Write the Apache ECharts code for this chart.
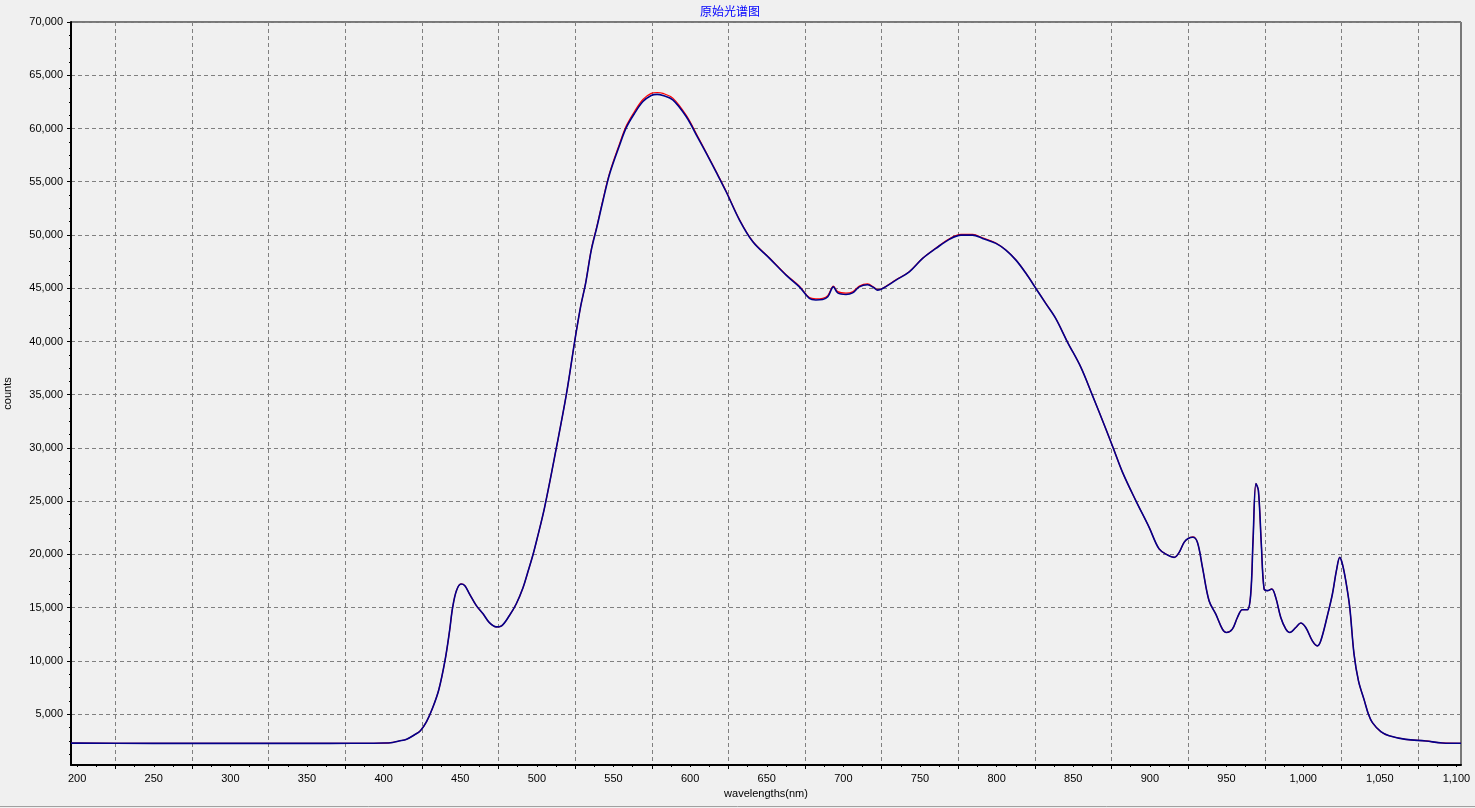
<!DOCTYPE html>
<html>
<head>
<meta charset="utf-8">
<script src="https://cdn.jsdelivr.net/npm/echarts@6/dist/echarts.min.js"></script>
<style>
html,body{margin:0;padding:0;background:#F0F0F0;}
#chart{width:1475px;height:808px;}
</style>
</head>
<body>
<div id="chart"></div>
<script>
const title = '原始光谱图';
const xName = 'wavelengths(nm)';
const yName = 'counts';
const xLabelValues = [200,250,300,350,400,450,500,550,600,650,700,750,800,850,900,950,1000,1050,1100];
const xGridValues = [225,275,325,375,425,475,525,575,625,675,725,775,825,875,925,975,1025,1075];
const yLabelValues = [5000,10000,15000,20000,25000,30000,35000,40000,45000,50000,55000,60000,65000,70000];

const wavelengths = [196,200,250,300,350,380,400,406,410,415,420,424,428,432,436,440,443,445,447.5,450.5,453,456,460.5,465,469,473.5,477,482,486.5,491,494,497.5,500,505,512.7,519.2,524.6,528.5,531.8,535.5,539.2,543,547.5,554,558.4,563.8,569.2,574.6,578.5,582.2,588.7,597.4,605,610.5,617,623.5,632.2,640.9,651.8,662.6,671.3,677.8,682,686.5,689.8,693.5,696.3,701.7,706,710.4,715.8,719.7,722.3,725.6,734.3,743,751.7,760.4,769.1,776.7,784.3,790.8,799.5,806,812.6,819.1,825.6,832.1,838.6,846.2,854.9,862.5,871.2,876,882.1,890.8,899.5,906,911.5,915.8,919.1,922.3,925,928,931,934.3,938.6,943,947.3,949.9,953.8,957.1,960.3,963.6,965.8,967.3,969.2,970.8,972.7,974.5,976.6,979.5,982.1,985.4,988.7,991.3,995.2,998.4,1001.7,1006,1009.3,1011.5,1015.8,1019.1,1021.7,1023.9,1025.6,1027.8,1030.4,1033.2,1036.1,1040,1042.6,1045.2,1050.7,1056.1,1067,1080,1090.8,1103];
const countsBlue = [2280,2280,2260,2270,2260,2270,2290,2350,2480,2650,3050,3450,4300,5600,7300,10000,12800,15000,16600,17230,17070,16300,15200,14400,13600,13200,13300,14250,15350,16900,18300,20000,21400,24400,30000,35000,39950,43250,45450,48580,50770,53150,55750,58450,60100,61440,62530,63100,63200,63100,62690,61120,59150,57680,55900,54060,51400,49360,47800,46230,45130,44040,43900,43940,44190,45130,44560,44410,44560,45130,45320,45070,44820,44980,45760,46540,47800,48740,49590,49990,49990,49680,49210,48580,47640,46400,44980,43560,42150,39950,37600,34940,31810,30020,27730,25060,22550,20520,19950,19730,20200,21140,21500,21610,21140,18790,15650,14400,12990,12670,12990,14080,14810,14810,16290,21300,26650,26000,20990,16760,16600,16760,15970,14080,12990,12670,13140,13560,13140,11890,11420,11890,14240,16290,18480,19730,19110,17540,15030,10640,8130,6250,5000,4210,3360,2980,2640,2490,2300,2270];
const countsRed = [2280,2280,2260,2270,2260,2270,2290,2350,2480,2650,3050,3450,4300,5600,7300,10000,12800,15000,16600,17230,17070,16300,15200,14400,13600,13200,13300,14250,15350,16900,18300,20000,21400,24400,30000,35000,39950,43250,45500,48650,50850,53250,55850,58600,60270,61620,62720,63300,63380,63300,62850,61250,59250,57750,55950,54100,51450,49400,47850,46280,45200,44120,44000,44050,44300,45200,44680,44540,44660,45200,45400,45120,44860,45000,45790,46560,47820,48780,49640,50050,50050,49740,49250,48600,47660,46420,45000,43580,42160,39960,37600,34940,31810,30020,27730,25060,22550,20520,19950,19730,20200,21140,21500,21650,21140,18790,15650,14400,12990,12670,12990,14080,14810,14810,16290,21300,26650,26000,20990,16760,16600,16760,15970,14080,12990,12670,13140,13560,13140,11890,11420,11890,14240,16290,18480,19730,19110,17540,15030,10640,8130,6250,5000,4210,3360,2980,2640,2490,2300,2270];

const xMinorValues = [];
for (let v = 200; v <= 1100; v += 12.5) xMinorValues.push(v);
const yMinorValues = [];
for (let v = 1250; v <= 70000; v += 1250) yMinorValues.push(v);

const fontFamily = '"Liberation Sans", "DejaVu Sans", sans-serif';
const fmt = v => Number(v).toLocaleString('en-US');

const chart = echarts.init(document.getElementById('chart'), null, {renderer: 'canvas'});
const X_MIN = 196, X_MAX = 1103, Y_MIN = 230, Y_MAX = 70000;
const dash = {color: '#808080', width: 1, type: [4, 3]};

chart.setOption({
  backgroundColor: '#F0F0F0',
  animation: false,
  title: {
    text: title, left: 695, top: 0,
    textStyle: {color: '#0000FF', fontSize: 12, fontWeight: 'normal', fontFamily: '"Noto Sans CJK SC", sans-serif'}
  },
  grid: {left: 71, right: 14, top: 22, bottom: 43, show: true, borderColor: '#000', borderWidth: 1, backgroundColor: '#F0F0F0', outerBoundsMode: 'none', containLabel: false},
  xAxis: [
    {
      type: 'value', min: X_MIN, max: X_MAX, position: 'bottom',
      name: xName, nameLocation: 'middle', nameGap: 22,
      nameTextStyle: {color: '#000', fontSize: 11, fontFamily: fontFamily},
      axisLine: {show: true, onZero: false, lineStyle: {color: '#000', width: 2}},
      axisTick: {show: false, customValues: xLabelValues},
      axisLabel: {customValues: xLabelValues, formatter: fmt, color: '#000', fontSize: 11, margin: 8, fontFamily: fontFamily},
      splitLine: {show: false}
    },
    {
      type: 'value', min: X_MIN, max: X_MAX, position: 'bottom', offset: 0,
      axisLine: {show: false, onZero: false},
      axisTick: {show: true, customValues: xGridValues, length: 4, lineStyle: {color: '#000'}},
      axisLabel: {show: false, customValues: xGridValues},
      splitLine: {show: true, lineStyle: dash}
    },
    {
      type: 'value', min: X_MIN, max: X_MAX, position: 'bottom', offset: 0,
      axisLine: {show: false, onZero: false},
      axisTick: {show: true, customValues: xMinorValues, length: 2, lineStyle: {color: '#000'}},
      axisLabel: {show: false, customValues: xMinorValues},
      splitLine: {show: false}
    }
  ],
  yAxis: [
    {
      type: 'value', min: Y_MIN, max: Y_MAX, position: 'left',
      name: yName, nameLocation: 'middle', nameGap: 58, nameRotate: 90,
      nameTextStyle: {color: '#000', fontSize: 11, fontFamily: fontFamily},
      axisLine: {show: true, onZero: false, lineStyle: {color: '#000', width: 2}},
      axisTick: {show: true, customValues: yLabelValues, length: 4, lineStyle: {color: '#000'}},
      axisLabel: {customValues: yLabelValues, formatter: fmt, color: '#000', fontSize: 11, margin: 8, fontFamily: fontFamily},
      splitLine: {show: true, lineStyle: dash}
    },
    {
      type: 'value', min: Y_MIN, max: Y_MAX, position: 'left', offset: 0,
      axisLine: {show: false, onZero: false},
      axisTick: {show: true, customValues: yMinorValues, length: 2, lineStyle: {color: '#000'}},
      axisLabel: {show: false, customValues: yMinorValues},
      splitLine: {show: false}
    }
  ],
  series: [
    {
      name: 'red', type: 'line', xAxisIndex: 0, yAxisIndex: 0,
      data: wavelengths.map((w, i) => [w, countsRed[i]]),
      showSymbol: false, smooth: 0.35,
      lineStyle: {color: '#FF0000', width: 1.2}, z: 2
    },
    {
      name: 'blue', type: 'line', xAxisIndex: 0, yAxisIndex: 0,
      data: wavelengths.map((w, i) => [w, countsBlue[i]]),
      showSymbol: false, smooth: 0.35,
      lineStyle: {color: '#00008B', width: 1.6}, z: 3
    }
  ],
  graphic: [
    {type: 'line', shape: {x1: 0, y1: 806.5, x2: 1475, y2: 806.5}, style: {stroke: '#A0A0A0', lineWidth: 1}, silent: true}
  ]
});
</script>
</body>
</html>
